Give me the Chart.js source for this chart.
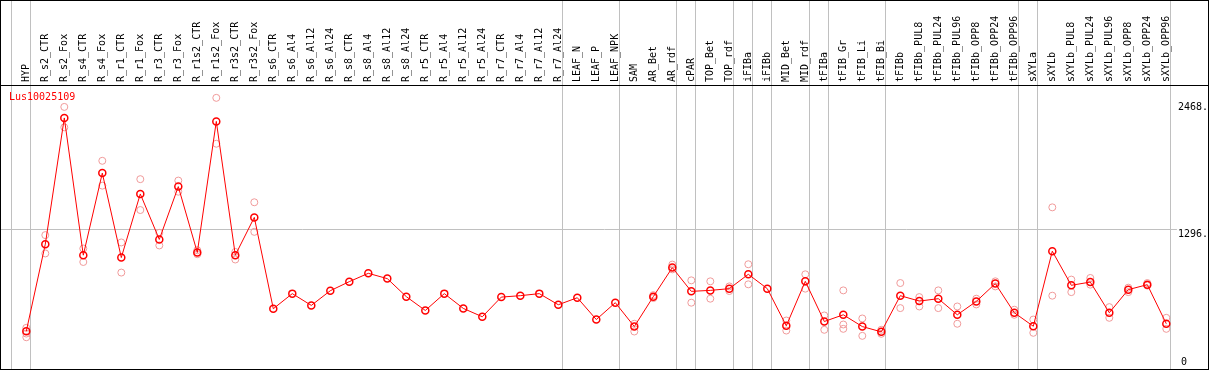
<!DOCTYPE html>
<html>
<head>
<meta charset="utf-8">
<script src="https://cdn.jsdelivr.net/npm/chart.js@4"></script>
<style>
  html, body { margin: 0; padding: 0; background: #fff; overflow: hidden; }
  #wrap { position: absolute; left: 0; top: 0; width: 1207px; height: 368px; border: 1px solid #000; }
</style>
</head>
<body>
<div id="wrap"><canvas id="chart"></canvas></div>
<script>
// Samples, in plot order.
const categories = [
  'HYP', 'R_s2_CTR', 'R_s2_Fox', 'R_s4_CTR', 'R_s4_Fox', 'R_r1_CTR', 'R_r1_Fox', 'R_r3_CTR', 'R_r3_Fox',
  'R_r1s2_CTR', 'R_r1s2_Fox', 'R_r3s2_CTR', 'R_r3s2_Fox',
  'R_s6_CTR', 'R_s6_Al4', 'R_s6_Al12', 'R_s6_Al24', 'R_s8_CTR', 'R_s8_Al4', 'R_s8_Al12', 'R_s8_Al24',
  'R_r5_CTR', 'R_r5_Al4', 'R_r5_Al12', 'R_r5_Al24', 'R_r7_CTR', 'R_r7_Al4', 'R_r7_Al12', 'R_r7_Al24',
  'LEAF_N', 'LEAF_P', 'LEAF_NPK', 'SAM', 'AR_Bet', 'AR_rdf', 'cPAR', 'TOP_Bet', 'TOP_rdf',
  'iFIBa', 'iFIBb', 'MID_Bet', 'MID_rdf', 'tFIBa', 'tFIB_Gr', 'tFIB_Li', 'tFIB_Bi', 'tFIBb',
  'tFIBb_PUL8', 'tFIBb_PUL24', 'tFIBb_PUL96', 'tFIBb_OPP8', 'tFIBb_OPP24', 'tFIBb_OPP96',
  'sXYLa', 'sXYLb', 'sXYLb_PUL8', 'sXYLb_PUL24', 'sXYLb_PUL96', 'sXYLb_OPP8', 'sXYLb_OPP24', 'sXYLb_OPP96'
];

const geneName = 'Lus10025109';

// Mean expression per sample.
const meanValues = [
  350, 1156, 2325, 1054, 1814, 1032, 1621, 1200, 1689,
  1079, 2293, 1054, 1404,
  558, 698, 589, 725, 809, 886, 837, 670,
  542, 698, 561, 484, 666, 679, 698, 595,
  660, 458, 614, 393, 670, 939, 719, 728, 744,
  877, 744, 400, 812, 440, 502, 393, 344, 679,
  629, 651, 502, 626, 791, 521,
  396, 1091, 775, 805, 521, 735, 781, 419
];

// Replicates (null where none shows apart from the mean).
const rep1 = [
  381, 1240, 2427, 1116, 1928, 1172, 1758, 1261, 1745,
  1100, 2511, 1084, 1544,
  null, null, null, null, null, null, null, null,
  null, null, null, null, null, null, null, null,
  null, null, null, 419, 684, 967, 821, 812, 765,
  970, null, 449, 877, 496, 728, 468, 363, 796,
  666, 728, 579, 651, 812, 549,
  458, 1497, 828, 843, 573, 753, 796, 474
];
const rep2 = [
  294, 1070, 2238, 991, 1698, 893, 1472, 1144, 1642,
  1063, 2086, 1014, 1270,
  null, null, null, null, null, null, null, null,
  null, null, null, null, null, null, null, null,
  null, null, null, 347, 657, 923, 614, 651, 722,
  784, null, 356, 744, 363, 412, 307, 326, 564,
  579, 564, 419, 598, 765, 502,
  335, 679, 712, 781, 474, 712, 772, 372
];
const rep3 = categories.map(() => null);
rep3[0] = 328;
rep3[43] = 372;

// Index of the last sample in each group (separator drawn just after it).
const groupEnds = [-1, 0, 28, 31, 34, 35, 37, 38, 39, 41, 42, 45, 52, 53, 60];

const yTicks = [1296, 2468];
const yTickLabels = ['1296.', '2468.'];
const yGridAt = 1296;
const yZeroLabel = '0';
const yMax = 2630;

const FONT = 'DejaVu Sans Mono';
const SEP = 0.2;

const toPoints = (arr) => arr.map((v, i) => ({ x: i, y: v }));

const repStyle = {
  type: 'line',
  showLine: false,
  pointStyle: 'circle',
  pointRadius: 3.5,
  pointBorderWidth: 1,
  pointBorderColor: '#f09a9a',
  pointBackgroundColor: 'rgba(0,0,0,0)',
  order: 2
};

// no padding round the axes, the plot fills the frame
const noPadding = (scale) => {
  scale.paddingLeft = 0;
  scale.paddingRight = 0;
  scale.paddingTop = 0;
  scale.paddingBottom = 0;
};

// Draw the gene name in the top left corner of the plot.
const seriesLabel = {
  id: 'seriesLabel',
  afterDatasetsDraw(chart) {
    const { ctx, chartArea } = chart;
    ctx.save();
    ctx.font = '10px "' + FONT + '"';
    ctx.fillStyle = '#ff0000';
    ctx.textBaseline = 'middle';
    ctx.textAlign = 'left';
    ctx.fillText(chart.data.datasets[0].label, chartArea.left + 8, chartArea.top + 12);
    ctx.restore();
  }
};

const rightAxis = (extra) => Object.assign({
  type: 'linear',
  position: 'right',
  bounds: 'data',
  min: 0,
  max: yMax,
  grid: { display: false },
  border: { display: false }
}, extra);

const ctx = document.getElementById('chart').getContext('2d');
new Chart(ctx, {
  type: 'line',
  data: {
    datasets: [{
      label: geneName,
      data: toPoints(meanValues),
      borderColor: '#ff0000',
      borderWidth: 1,
      tension: 0,
      pointStyle: 'circle',
      pointRadius: 3.5,
      pointBorderWidth: 1.5,
      pointBorderColor: '#ff0000',
      pointBackgroundColor: 'rgba(0,0,0,0)',
      order: 1
    },
    Object.assign({ label: 'rep1', data: toPoints(rep1) }, repStyle),
    Object.assign({ label: 'rep2', data: toPoints(rep2) }, repStyle),
    Object.assign({ label: 'rep3', data: toPoints(rep3) }, repStyle)]
  },
  options: {
    responsive: true,
    maintainAspectRatio: false,
    animation: false,
    layout: { padding: 0, autoPadding: false },
    plugins: {
      legend: { display: false },
      tooltip: { enabled: false }
    },
    scales: {
      x: {
        type: 'linear',
        position: 'top',
        bounds: 'data',
        min: -25.3 / 19,
        max: -25.3 / 19 + 1207 / 19,
        afterBuildTicks: (scale) => {
          let ticks = categories.map((c, i) => ({ value: i }));
          groupEnds.forEach((g) => ticks.push({ value: g + SEP }));
          ticks.sort((a, b) => a.value - b.value);
          scale.ticks = ticks;
        },
        afterFit: (scale) => {
          scale.height = 84;
          noPadding(scale);
        },
        ticks: {
          autoSkip: false,
          minRotation: 90,
          maxRotation: 90,
          padding: -81,
          labelOffset: 12,
          color: '#000',
          font: { family: FONT, size: 10 },
          callback: (v) => Number.isInteger(v) ? categories[v] : ''
        },
        grid: {
          drawTicks: true,
          tickLength: 84,
          lineWidth: 1,
          color: (c) => (c.tick && !Number.isInteger(c.tick.value)) ? '#c0c0c0' : 'rgba(0,0,0,0)'
        },
        border: { display: true, color: '#000', width: 1 }
      },
      y: rightAxis({
        afterBuildTicks: (scale) => {
          scale.ticks = yTicks.map((v) => ({ value: v }));
        },
        afterFit: (scale) => {
          scale.width = 0;
          noPadding(scale);
        },
        ticks: {
          mirror: true,
          align: 'start',
          crossAlign: 'far',
          padding: 0,
          color: '#000',
          font: { family: FONT, size: 10 },
          showLabelBackdrop: true,
          backdropColor: '#fff',
          backdropPadding: { top: 0, bottom: 0, left: 1, right: 0 },
          callback: (v) => yTickLabels[yTicks.indexOf(v)]
        },
        grid: {
          display: true,
          drawTicks: false,
          lineWidth: 1,
          color: (c) => (c.tick && c.tick.value === yGridAt) ? '#c0c0c0' : 'rgba(0,0,0,0)'
        }
      }),
      // the zero label sits just above the bottom edge
      yZero: rightAxis({
        afterBuildTicks: (scale) => {
          scale.ticks = [{ value: 0 }];
        },
        afterFit: (scale) => {
          scale.width = 0;
          noPadding(scale);
        },
        ticks: {
          mirror: true,
          align: 'end',
          crossAlign: 'far',
          padding: -21,
          labelOffset: -2,
          color: '#000',
          font: { family: FONT, size: 10 },
          callback: () => yZeroLabel
        }
      })
    }
  },
  plugins: [seriesLabel]
});
</script>
</body>
</html>
